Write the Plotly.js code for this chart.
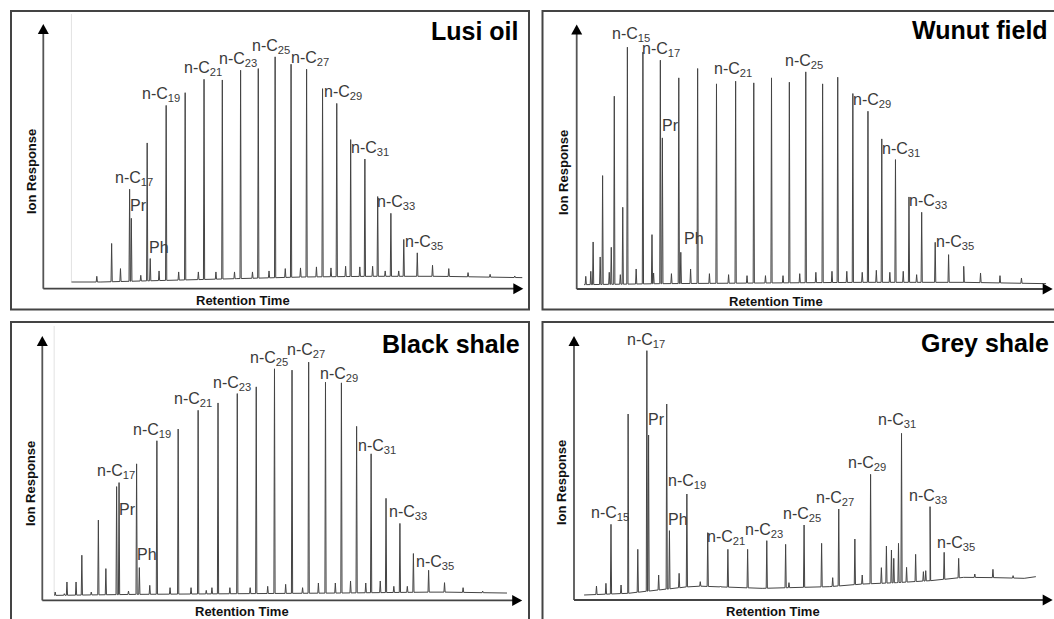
<!DOCTYPE html>
<html><head><meta charset="utf-8">
<script src="https://cdn.plot.ly/plotly-3.0.1.min.js"></script>
<style>html,body{margin:0;padding:0;background:#fff}#chart{width:1054px;height:619px}</style>
</head><body><div id="chart"></div>
<script>
// ---------------- DATA (retention time, relative ion response) ----------------
const panelTitles = ['Lusi oil', 'Wunut field', 'Black shale', 'Grey shale'];
const yTitle = 'Ion Response';
const xTitle = 'Retention Time';

// Lusi oil
const base1Rt = [2.77, 5.67, 12.33, 19.0, 25.67, 32.33, 39.0, 47.17];
const base1Ab = [20, 20, 25, 30, 35, 37, 37, 33];
const rt1 = [5.27, 6.73, 7.6, 8.5, 8.67, 9.6, 10.23, 10.53, 11.4, 12.1, 13.33, 13.97, 15.27, 15.83, 17.0, 17.63, 18.83, 19.43, 20.6, 21.17, 22.23, 22.83, 23.83, 24.4, 25.33, 25.93, 26.9, 27.5, 28.33, 28.9, 29.77, 30.27, 31.17, 31.67, 32.43, 32.93, 33.67, 34.23, 35.0, 35.5, 36.83, 38.33, 39.93, 41.83, 44.0, 46.43];
const ab1 = [37, 135, 60, 297, 210, 40, 435, 90, 53, 547, 50, 585, 50, 625, 50, 623, 50, 652, 50, 657, 53, 692, 60, 670, 62, 655, 65, 597, 62, 553, 67, 445, 65, 387, 67, 275, 53, 225, 53, 147, 107, 70, 60, 48, 43, 38];
const lab1Names = ['n-C17', 'Pr', 'Ph', 'n-C19', 'n-C21', 'n-C23', 'n-C25', 'n-C27', 'n-C29', 'n-C31', 'n-C33', 'n-C35'];
const lab1Rt = [8.5, 8.67, 10.53, 12.1, 15.83, 19.43, 22.83, 25.93, 28.9, 31.67, 34.23, 36.83];
const start1Rt = 2.77;

// Wunut field
const base2Rt = [0.73, 8.4, 18.4, 28.4, 38.4, 46.57];
const base2Ab = [13, 16, 18, 20, 20, 16];
const rt2 = [0.9, 1.4, 1.63, 2.33, 2.57, 3.23, 3.43, 3.73, 4.33, 4.57, 5.03, 5.9, 6.57, 7.47, 7.63, 8.3, 8.5, 9.4, 10.13, 10.33, 11.3, 12.0, 13.17, 13.87, 15.07, 15.77, 16.9, 17.57, 18.73, 19.33, 20.47, 21.1, 22.13, 22.73, 23.73, 24.4, 25.33, 25.9, 26.8, 27.4, 28.33, 28.9, 29.73, 30.27, 31.07, 31.63, 32.4, 32.97, 33.73, 34.23, 35.57, 36.9, 38.4, 40.07, 42.0, 44.13];
const ab2 = [38, 53, 141, 96, 340, 50, 125, 578, 43, 245, 725, 60, 710, 163, 48, 686, 453, 46, 633, 110, 60, 661, 46, 615, 43, 623, 40, 618, 40, 633, 40, 620, 46, 651, 50, 615, 53, 635, 53, 586, 50, 533, 56, 450, 50, 388, 53, 276, 43, 230, 140, 103, 68, 48, 40, 33];
const lab2Names = ['n-C15', 'n-C17', 'Pr', 'Ph', 'n-C21', 'n-C25', 'n-C29', 'n-C31', 'n-C33', 'n-C35'];
const lab2Rt = [5.03, 8.3, 8.5, 10.33, 15.77, 22.73, 28.9, 31.63, 34.23, 36.9];

// Black shale
const base3Rt = [1.17, 9.17, 19.17, 29.17, 39.17, 45.83];
const base3Ab = [15, 18, 20, 22, 25, 22];
const rt3 = [1.27, 2.17, 2.43, 3.33, 3.9, 4.83, 5.53, 6.27, 7.33, 7.57, 8.5, 9.3, 9.57, 10.6, 11.3, 12.6, 13.4, 14.67, 15.37, 16.17, 16.73, 17.33, 18.5, 19.23, 20.5, 21.1, 22.23, 22.9, 24.0, 24.63, 25.67, 26.27, 27.23, 27.93, 28.9, 29.5, 30.4, 31.0, 31.9, 32.43, 33.33, 33.9, 34.67, 35.27, 36.0, 36.6, 38.1, 39.67, 41.5, 43.43];
const ab3 = [25, 20, 55, 55, 135, 25, 240, 95, 340, 352, 28, 408, 98, 45, 477, 38, 512, 38, 568, 30, 38, 590, 38, 618, 38, 638, 42, 692, 48, 688, 38, 712, 52, 652, 52, 650, 58, 520, 52, 438, 58, 305, 42, 230, 42, 140, 90, 53, 38, 28];
const lab3Names = ['n-C17', 'Pr', 'Ph', 'n-C19', 'n-C21', 'n-C23', 'n-C25', 'n-C27', 'n-C29', 'n-C31', 'n-C33', 'n-C35'];
const lab3Rt = [7.33, 7.57, 9.57, 11.3, 15.37, 19.23, 22.9, 26.27, 29.5, 32.43, 35.27, 38.1];
const start3Rt = 1.17;

// Grey shale
const base4Rt = [1.0, 5.33, 12.0, 18.67, 25.33, 28.67, 32.0, 35.33, 38.67, 42.0, 44.67, 45.83];
const base4Ab = [15, 20, 42, 35, 40, 48, 52, 58, 68, 67, 65, 70];
const rt4 = [2.23, 3.17, 3.67, 4.67, 5.37, 6.33, 7.23, 7.4, 8.4, 9.2, 9.47, 10.43, 11.2, 12.53, 13.27, 14.53, 15.27, 17.23, 19.13, 21.0, 21.33, 22.83, 24.57, 25.67, 26.27, 27.87, 28.6, 29.43, 30.5, 31.0, 31.5, 31.73, 32.2, 32.5, 33.0, 33.9, 34.67, 34.9, 35.33, 36.73, 38.17, 39.77, 41.57, 43.57];
const ab4 = [42, 50, 227, 45, 558, 152, 748, 495, 75, 588, 208, 80, 318, 55, 202, 42, 152, 152, 178, 167, 52, 225, 170, 67, 273, 183, 75, 377, 97, 162, 150, 125, 170, 500, 98, 137, 85, 88, 280, 143, 125, 78, 92, 73];
const lab4Names = ['n-C15', 'n-C17', 'Pr', 'Ph', 'n-C19', 'n-C21', 'n-C23', 'n-C25', 'n-C27', 'n-C29', 'n-C31', 'n-C33', 'n-C35'];
const lab4Rt = [3.67, 7.23, 7.4, 9.47, 11.2, 15.27, 19.13, 22.83, 26.27, 29.43, 32.5, 35.33, 38.17];

// ---------------- LAYOUT / STYLE ----------------
const FW = 1054, FH = 619;
const X = v => v / FW;
const Y = v => 1 - v / FH;
const FONT = 'Liberation Sans, Arial, Helvetica, sans-serif';

// panel geometry in pixels: y-axis x, x-axis y, arrow tips, box, axis ranges
const geo = [
  {ox: 43.3, oy: 288.7, tipY: 24, tipX: 523.3, xr: 47.27, yr: 790, box: [11, 11, 529, 309.5],
   title: [520.5, 31], ylab: [31, 172], xlab: [243.4, 300]},
  {ox: 576.7, oy: 289, tipY: 24.5, tipX: 1052.7, xr: 47.23, yr: 793, box: [542.5, 11, 1060, 309.5],
   title: [1050, 30], ylab: [564, 173], xlab: [775.7, 301]},
  {ox: 42.3, oy: 600.4, tipY: 336, tipX: 522.2, xr: 47.33, yr: 790, box: [11, 322, 529, 630],
   title: [522, 344], ylab: [30, 484], xlab: [242.4, 611]},
  {ox: 574, oy: 600, tipY: 336, tipX: 1052.7, xr: 47.5, yr: 792, box: [542.5, 322, 1060, 630],
   title: [1051, 343], ylab: [561, 483], xlab: [773.4, 611]}
];

// label nudges in px [dx (center or left edge), dy (up)]
const nudge = [
  {'n-C17':[4,0],'Pr':[-2,3],'Ph':[-2,2],'n-C19':[-5,0],'n-C21':[-1,0],'n-C23':[-3,0],'n-C25':[-4,0],'n-C27':[3,0],'n-C29':[6,0],'n-C31':[5,0],'n-C33':[5,0],'n-C35':[7,0]},
  {'n-C15':[4,2],'n-C17':[1,0],'Pr':[-1,3],'Ph':[2,4],'n-C21':[-3,1],'n-C25':[-2,0],'n-C29':[4,0],'n-C31':[6,0],'n-C33':[6,0],'n-C35':[6,2]},
  {'n-C17':[-1,5],'Pr':[-1,-36],'Ph':[-3,4],'n-C19':[-5,0],'n-C21':[-5,0],'n-C23':[-5,0],'n-C25':[-5,0],'n-C27':[-3,1],'n-C29':[-2,-2],'n-C31':[6,-3],'n-C33':[8,0],'n-C35':[6,-3]},
  {'n-C15':[-1,0],'n-C17':[-1,0],'Pr':[-2,6],'Ph':[-2,2],'n-C19':[0,2],'n-C21':[-2,1],'n-C23':[-3,0],'n-C25':[-2,0],'n-C27':[-4,0],'n-C29':[-4,0],'n-C31':[-5,2],'n-C33':[-2,0],'n-C35':[-3,4]}
];

const panels = [
  {bRt: base1Rt, bAb: base1Ab, rt: rt1, ab: ab1, ln: lab1Names, lr: lab1Rt, start: start1Rt},
  {bRt: base2Rt, bAb: base2Ab, rt: rt2, ab: ab2, ln: lab2Names, lr: lab2Rt, start: null},
  {bRt: base3Rt, bAb: base3Ab, rt: rt3, ab: ab3, ln: lab3Names, lr: lab3Rt, start: start3Rt},
  {bRt: base4Rt, bAb: base4Ab, rt: rt4, ab: ab4, ln: lab4Names, lr: lab4Rt, start: null}
];

const HALF = 0.06; // half width of a peak in retention units
function interp(xs, ys, x) {
  if (x <= xs[0]) return ys[0];
  for (let i = 1; i < xs.length; i++) {
    if (x <= xs[i]) { const t = (x - xs[i-1]) / (xs[i] - xs[i-1]); return ys[i-1] + t * (ys[i] - ys[i-1]); }
  }
  return ys[ys.length - 1];
}
function chromatogram(p) {
  const pts = [];
  p.bRt.forEach((x, i) => pts.push([x, p.bAb[i]]));
  p.rt.forEach((x, i) => {
    const b = interp(p.bRt, p.bAb, x);
    pts.push([x - HALF, b], [x, p.ab[i]], [x + HALF, b]);
  });
  pts.sort((a, b) => a[0] - b[0]);
  return {x: pts.map(q => q[0]), y: pts.map(q => q[1])};
}

const data = [], shapes = [], annotations = [];
const layout = {
  width: FW, height: FH, margin: {l: 0, r: 0, t: 0, b: 0},
  paper_bgcolor: '#fff', plot_bgcolor: 'rgba(0,0,0,0)', showlegend: false,
  font: {family: FONT}
};

panels.forEach((p, k) => {
  const g = geo[k];
  const sx = k === 0 ? '' : String(k + 1);
  const xa = 'x' + sx, ya = 'y' + sx;
  layout['xaxis' + sx] = {domain: [X(g.ox), X(g.tipX)], range: [0, g.xr], visible: false, fixedrange: true, anchor: ya};
  layout['yaxis' + sx] = {domain: [Y(g.oy), Y(g.tipY)], range: [0, g.yr], visible: false, fixedrange: true, anchor: xa};

  // faint solvent-front line
  if (p.start !== null) {
    shapes.push({type: 'line', xref: xa, yref: 'paper', x0: p.start, x1: p.start,
      y0: Y(g.oy - 7), y1: Y(g.tipY - 10), line: {color: '#e2e2e2', width: 1}, layer: 'below'});
  }

  const c = chromatogram(p);
  data.push({type: 'scatter', mode: 'lines', x: c.x, y: c.y, xaxis: xa, yaxis: ya,
    line: {color: '#444', width: 1}, hoverinfo: 'skip'});

  // box
  const b = g.box;
  shapes.push({type: 'rect', xref: 'paper', yref: 'paper', x0: X(b[0]), x1: X(b[2]), y0: Y(b[1]), y1: Y(b[3]),
    line: {color: '#444', width: 2}, fillcolor: 'rgba(0,0,0,0)'});
  // axes with arrows
  shapes.push({type: 'line', xref: 'paper', yref: 'paper', x0: X(g.ox), x1: X(g.ox), y0: Y(g.oy), y1: Y(g.tipY + 9),
    line: {color: '#555', width: 1.8}});
  shapes.push({type: 'line', xref: 'paper', yref: 'paper', x0: X(g.ox), x1: X(g.tipX - 9), y0: Y(g.oy), y1: Y(g.oy),
    line: {color: '#444', width: 1.8}});
  shapes.push({type: 'path', xref: 'paper', yref: 'paper',
    path: `M ${X(g.ox)} ${Y(g.tipY)} L ${X(g.ox - 5.5)} ${Y(g.tipY + 10)} L ${X(g.ox + 5.5)} ${Y(g.tipY + 10)} Z`,
    fillcolor: '#000', line: {width: 0}});
  shapes.push({type: 'path', xref: 'paper', yref: 'paper',
    path: `M ${X(g.tipX)} ${Y(g.oy)} L ${X(g.tipX - 10)} ${Y(g.oy - 5.5)} L ${X(g.tipX - 10)} ${Y(g.oy + 5.5)} Z`,
    fillcolor: '#000', line: {width: 0}});

  // titles
  annotations.push({xref: 'paper', yref: 'paper', x: X(g.title[0]), y: Y(g.title[1]), xanchor: 'right', yanchor: 'middle',
    text: '<b>' + panelTitles[k] + '</b>', showarrow: false, font: {family: FONT, size: 25, color: '#000'}});
  annotations.push({xref: 'paper', yref: 'paper', x: X(g.ylab[0]), y: Y(g.ylab[1]), xanchor: 'center', yanchor: 'middle',
    text: '<b>' + yTitle + '</b>', textangle: -90, showarrow: false, font: {family: FONT, size: 13, color: '#111'}});
  annotations.push({xref: 'paper', yref: 'paper', x: X(g.xlab[0]), y: Y(g.xlab[1]), xanchor: 'center', yanchor: 'middle',
    text: '<b>' + xTitle + '</b>', showarrow: false, font: {family: FONT, size: 13, color: '#111'}});

  // peak labels
  p.ln.forEach((name, i) => {
    const r = p.lr[i];
    let best = 0;
    p.rt.forEach((v, j) => { if (Math.abs(v - r) < Math.abs(p.rt[best] - r)) best = j; });
    const m = name.match(/^n-C(\d+)$/);
    const txt = m ? 'n-C<sub>' + m[1] + '</sub>' : name;
    const nd = (nudge[k][name] || [0, 0]);
    annotations.push({xref: xa, yref: ya, x: p.rt[best], y: p.ab[best], text: txt, showarrow: false,
      xanchor: m ? 'center' : 'left', yanchor: 'bottom', xshift: nd[0], yshift: nd[1], borderpad: 0,
      font: {family: FONT, size: 16, color: '#3a3a3a'}});
  });
});

layout.shapes = shapes;
layout.annotations = annotations;
Plotly.newPlot('chart', data, layout, {staticPlot: true, displayModeBar: false});
</script></body></html>
